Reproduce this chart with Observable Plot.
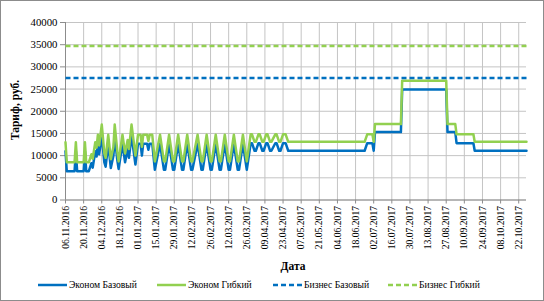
<!DOCTYPE html>
<html><head><meta charset="utf-8">
<script src="https://cdn.jsdelivr.net/npm/d3@7"></script>
<script src="https://cdn.jsdelivr.net/npm/@observablehq/plot@0.6"></script>
<style>
html,body{margin:0;padding:0;background:#fff;}
#frame{position:relative;width:544px;height:301px;overflow:hidden;font-family:"Liberation Serif",serif;color:#000;}
#chart{position:absolute;left:0;top:0;}
#chart svg, #chart svg text{font-family:"Liberation Serif",serif !important;}
#border{position:absolute;left:0;top:0;width:544px;height:301px;box-sizing:border-box;border:1px solid #8c8c8c;pointer-events:none;}
#ytitle{position:absolute;left:-35px;top:102px;width:100px;text-align:center;font-weight:bold;font-size:11.5px;transform:rotate(-90deg);line-height:16px;font-family:"Liberation Serif",serif;}
#xtitle{position:absolute;left:243px;top:259px;width:100px;text-align:center;font-weight:bold;font-size:11.5px;line-height:14px;font-family:"Liberation Serif",serif;}
#legend{position:absolute;top:278px;left:0;width:544px;height:16px;font-size:9.6px;white-space:nowrap;line-height:14px;font-family:"Liberation Serif",serif;}
.item{position:absolute;top:0;display:flex;align-items:center;}
.item svg{margin-right:2px;}
</style></head><body>
<div id="frame"><div id="chart"></div><div id="ytitle"></div><div id="xtitle"></div><div id="legend"></div><div id="border"></div></div>
<script>
// ---- data ----
const econDates = [
  "2016-11-06","2016-11-07","2016-11-13","2016-11-14","2016-11-15","2016-11-20",
  "2016-11-21","2016-11-22","2016-11-24","2016-11-26","2016-11-27","2016-11-29",
  "2016-11-30","2016-12-01","2016-12-02","2016-12-04","2016-12-06","2016-12-07",
  "2016-12-09","2016-12-11","2016-12-13","2016-12-14","2016-12-16","2016-12-17",
  "2016-12-20","2016-12-22","2016-12-24","2016-12-25","2016-12-27","2016-12-30",
  "2017-01-01","2017-01-03","2017-01-04","2017-01-05","2017-01-08","2017-01-09",
  "2017-01-10","2017-01-12","2017-01-14","2017-01-18","2017-01-21","2017-01-22",
  "2017-01-25","2017-01-28","2017-01-29","2017-02-01","2017-02-04","2017-02-05",
  "2017-02-08","2017-02-11","2017-02-12","2017-02-16","2017-02-19","2017-02-20",
  "2017-02-23","2017-02-26","2017-02-27","2017-03-02","2017-03-05","2017-03-06",
  "2017-03-09","2017-03-12","2017-03-13","2017-03-16","2017-03-19","2017-03-20",
  "2017-03-23","2017-03-26","2017-03-29","2017-03-30","2017-04-01","2017-04-02",
  "2017-04-04","2017-04-05","2017-04-07","2017-04-08","2017-04-10","2017-04-11",
  "2017-04-13","2017-04-14","2017-04-17","2017-04-18","2017-04-20","2017-04-21",
  "2017-04-23","2017-04-25","2017-04-27","2017-06-25","2017-06-27","2017-07-01",
  "2017-07-02","2017-07-03","2017-07-23","2017-07-24","2017-08-27","2017-08-28",
  "2017-09-03","2017-09-04","2017-09-17","2017-09-18","2017-10-28"
];
const econBase = [
  11000, 6500, 6500,11000, 6500, 6500,
  11000, 6500, 6500, 8300, 7300,11000,
   9800,12700,10300,14500, 8500, 7500,
  12700, 7200,10000,14500, 9000, 7000,
  12700, 8500,11500, 9500,14500, 8000,
  12700,12700,10000,12700,12700,11300,
  12700,12700, 6800,12700, 6800, 6800,
  12700, 6800, 6800,12700, 6800, 6800,
  12700, 6800, 6800,12700, 6800, 6800,
  12700, 6800, 6800,12700, 6800, 6800,
  12700, 6800, 6800,12700, 6800, 6800,
  12700, 6800,12800,12800,11100,11100,
  12800,12800,11100,11100,12800,12800,
  11100,11100,12800,12800,11100,11100,
  12800,12800,11100,11100,12800,12800,
  11100,15300,15300,24900,24900,15300,
  15300,12800,12800,11100,11100
];
const econFlex = [
  13000, 8500, 8500,13000, 8500, 8500,
  13000, 8500, 8500,10300, 9300,13000,
  11800,14700,12300,17000,10500, 9500,
  14700, 9200,12000,17000,11000, 8700,
  14700,10500,13500,11500,17000,10000,
  14700,14700,12000,14700,14700,13300,
  14700,14700, 8700,14700, 8700, 8700,
  14700, 8700, 8700,14700, 8700, 8700,
  14700, 8700, 8700,14700, 8700, 8700,
  14700, 8700, 8700,14700, 8700, 8700,
  14700, 8700, 8700,14700, 8700, 8700,
  14700, 8700,14800,14800,13100,13100,
  14800,14800,13100,13100,14800,14800,
  13100,13100,14800,14800,13100,13100,
  14800,14800,13100,13100,14800,14800,
  13100,17100,17100,26900,26900,17100,
  17100,14800,14800,13100,13100
];
const bizDates = ["2016-11-06","2017-10-28"];
const bizBase = [27500, 27500];
const bizFlex = [34700, 34700];
const seriesNames = ["Эконом Базовый","Эконом Гибкий","Бизнес Базовый","Бизнес Гибкий"];
const xTickLabels = ["06.11.2016","20.11.2016","04.12.2016","18.12.2016","01.01.2017","15.01.2017",
  "29.01.2017","12.02.2017","26.02.2017","12.03.2017","26.03.2017","09.04.2017","23.04.2017",
  "07.05.2017","21.05.2017","04.06.2017","18.06.2017","02.07.2017","16.07.2017","30.07.2017",
  "13.08.2017","27.08.2017","10.09.2017","24.09.2017","08.10.2017","22.10.2017"];
const yTicks = [0,5000,10000,15000,20000,25000,30000,35000,40000];
const xTitle = "Дата";
const yTitle = "Тариф, руб.";

// ---- build ----
const pISO = d3.utcParse("%Y-%m-%d");
const pRU = d3.utcParse("%d.%m.%Y");
const fRU = d3.utcFormat("%d.%m.%Y");
const colBlue = "#0070C0", colGreen = "#92D050";
const econ = econDates.map((d,i)=>({date:pISO(d), base:econBase[i], flex:econFlex[i]}));
const biz = bizDates.map((d,i)=>({date:pISO(d), base:bizBase[i], flex:bizFlex[i]}));
const xTicks = xTickLabels.map(pRU);
const x0 = pISO(bizDates[0]), x1 = pISO(bizDates[1]);
const serif = '"Liberation Serif", serif';

const chart = Plot.plot({
  width:544, height:272,
  marginLeft:65, marginRight:18, marginTop:22, marginBottom:72.5,
  style:{fontFamily:serif, fontSize:"10.5px", color:"#000", background:"transparent"},
  x:{type:"utc", domain:[x0,x1]},
  y:{domain:[0,40000]},
  marks:[
    Plot.gridY(yTicks, {stroke:"#c4c4c4", strokeOpacity:1}),
    Plot.gridX(xTicks, {stroke:"#c4c4c4", strokeOpacity:1}),
    Plot.ruleX([x0], {stroke:"#8c8c8c"}),
    Plot.ruleY([0], {stroke:"#8c8c8c"}),
    Plot.axisY(yTicks, {tickSize:5, tickPadding:3, tickFormat:d=>String(d), label:null, stroke:"#8c8c8c", fontFamily:serif, fontSize:"10.8px"}),
    Plot.axisX(xTicks, {tickSize:4, tickPadding:2, tickRotate:-90, tickFormat:fRU, label:null, stroke:"#8c8c8c", fontFamily:serif, fontSize:"9.6px"}),
    Plot.line(econ, {x:"date", y:"base", stroke:colBlue, strokeWidth:2.5}),
    Plot.line(econ, {x:"date", y:"flex", stroke:colGreen, strokeWidth:2.5}),
    Plot.line(biz, {x:"date", y:"base", stroke:colBlue, strokeWidth:2.5, strokeDasharray:"5,3", strokeLinecap:"butt"}),
    Plot.line(biz, {x:"date", y:"flex", stroke:colGreen, strokeWidth:2.5, strokeDasharray:"5,3", strokeLinecap:"butt"})
  ]
});
document.getElementById("chart").appendChild(chart);
document.getElementById("ytitle").textContent = yTitle;
document.getElementById("xtitle").textContent = xTitle;

const legend = document.getElementById("legend");
const legCols = [colBlue, colGreen, colBlue, colGreen];
const legDash = [null, null, "5,3", "5,3"];
const legLeft = [38, 157, 273, 388];
seriesNames.forEach((name,i)=>{
  const it = document.createElement("div"); it.className="item";
  it.style.left = legLeft[i] + "px";
  const s = d3.create("svg").attr("width",29).attr("height",8);
  s.append("line").attr("x1",0).attr("x2",29).attr("y1",4).attr("y2",4)
    .attr("stroke",legCols[i]).attr("stroke-width",2.5)
    .attr("stroke-dasharray",legDash[i]);
  it.appendChild(s.node());
  const t = document.createElement("span"); t.textContent = name;
  it.appendChild(t);
  legend.appendChild(it);
});
</script>
</body></html>
